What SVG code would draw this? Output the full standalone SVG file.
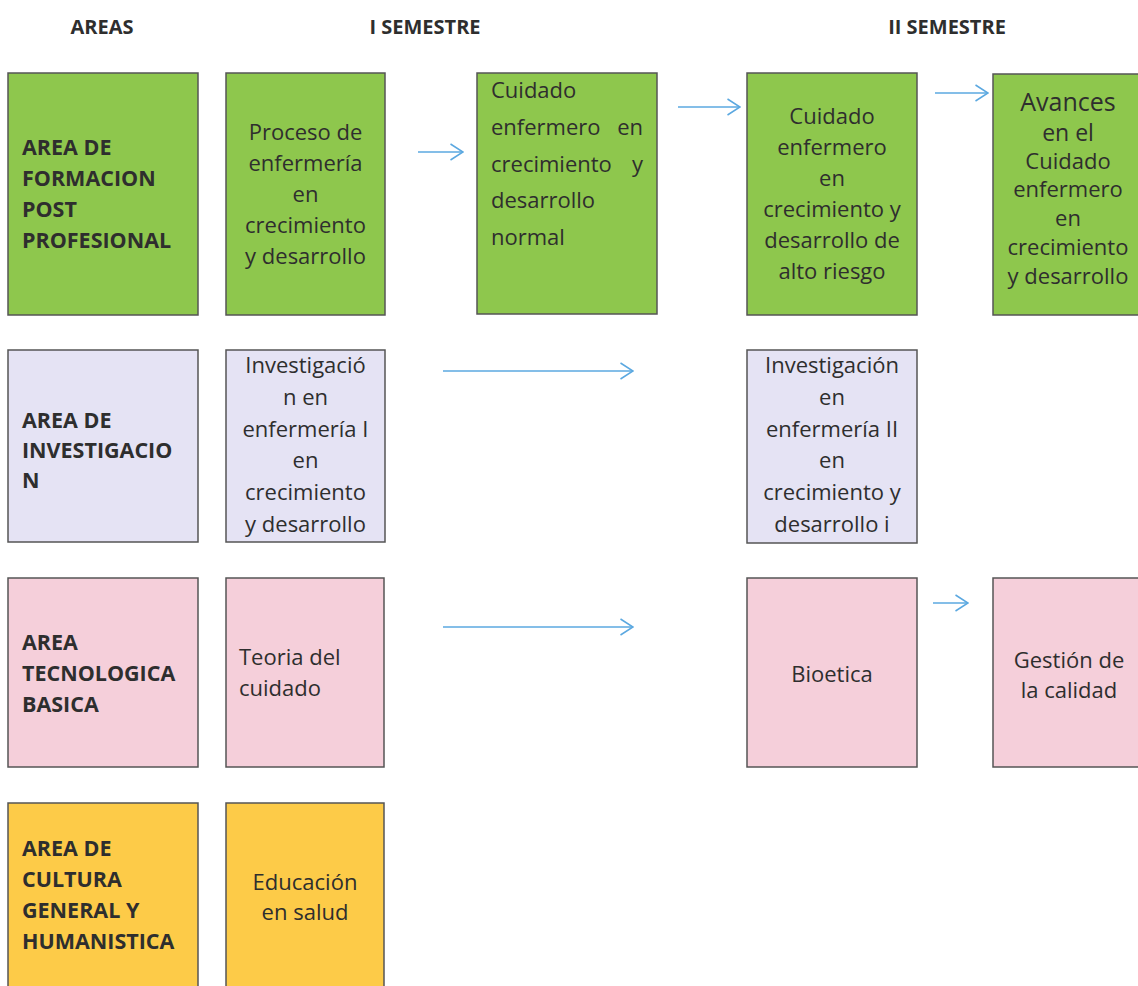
<svg xmlns="http://www.w3.org/2000/svg" width="1138" height="986" viewBox="0 0 1138 986">
<style>
.box{stroke:#555;stroke-width:1.5}
.g{fill:#8ec74d}.l{fill:#e5e3f4}.p{fill:#f5cfda}.y{fill:#fdcb48}
text{font-family:"Open Sans","Liberation Sans",sans-serif;fill:#2e2e2e}
.h{font-size:20px;font-weight:bold;text-anchor:middle}
.b{font-size:21.5px;font-weight:bold}
.t{font-size:22px}
.c{text-anchor:middle}
.arr{stroke:#5ba8e0;stroke-width:1.5;fill:none}
</style>
<defs>
<marker id="ah" markerUnits="userSpaceOnUse" viewBox="0 0 14 18" refX="13.5" refY="9" markerWidth="14" markerHeight="18" orient="auto">
<path d="M1,1 L13.5,9 L1,17" fill="none" stroke="#5ba8e0" stroke-width="1.5"/>
</marker>
</defs>
<rect width="1138" height="986" fill="#fff"/>
<g id="headers">
<text class="h" x="102" y="34">AREAS</text>
<text class="h" x="425" y="34">I SEMESTRE</text>
<text class="h" x="947" y="34">II SEMESTRE</text>
</g>
<g id="area-formacion">
<rect class="box g" x="8" y="73" width="190" height="242"/>
<text class="b"><tspan x="22" y="155">AREA DE</tspan><tspan x="22" y="186">FORMACION</tspan><tspan x="22" y="217">POST</tspan><tspan x="22" y="248">PROFESIONAL</tspan></text>
</g>
<g id="proceso">
<rect class="box g" x="226" y="73" width="159" height="242"/>
<text class="t c"><tspan x="305.5" y="140">Proceso de</tspan><tspan x="305.5" y="171">enfermería</tspan><tspan x="305.5" y="202">en</tspan><tspan x="305.5" y="233">crecimiento</tspan><tspan x="305.5" y="264">y desarrollo</tspan></text>
</g>
<g id="cuidado-normal">
<rect class="box g" x="477" y="73" width="180" height="241"/>
<text class="t"><tspan x="491" y="98">Cuidado</tspan><tspan x="491" y="135">enfermero</tspan><tspan x="643" y="135" text-anchor="end">en</tspan><tspan x="491" y="172">crecimiento</tspan><tspan x="643" y="172" text-anchor="end">y</tspan><tspan x="491" y="208">desarrollo</tspan><tspan x="491" y="245">normal</tspan></text>
</g>
<g id="cuidado-riesgo">
<rect class="box g" x="747" y="73" width="170" height="242"/>
<text class="t c"><tspan x="832" y="124">Cuidado</tspan><tspan x="832" y="155">enfermero</tspan><tspan x="832" y="186">en</tspan><tspan x="832" y="217">crecimiento y</tspan><tspan x="832" y="248">desarrollo de</tspan><tspan x="832" y="279">alto riesgo</tspan></text>
</g>
<g id="avances">
<rect class="box g" x="993" y="74" width="150" height="241"/>
<text class="t c"><tspan x="1068" y="111" font-size="25">Avances</tspan><tspan x="1068" y="141" font-size="23">en el</tspan><tspan x="1068" y="169">Cuidado</tspan><tspan x="1068" y="197">enfermero</tspan><tspan x="1068" y="226">en</tspan><tspan x="1068" y="255">crecimiento</tspan><tspan x="1068" y="284">y desarrollo</tspan></text>
</g>
<g id="area-investigacion">
<rect class="box l" x="8" y="350" width="190" height="192"/>
<text class="b"><tspan x="22" y="428">AREA DE</tspan><tspan x="22" y="458">INVESTIGACIO</tspan><tspan x="22" y="488">N</tspan></text>
</g>
<g id="investigacion-1">
<rect class="box l" x="226" y="350" width="159" height="192"/>
<text class="t c"><tspan x="305.5" y="373">Investigació</tspan><tspan x="305.5" y="405">n en</tspan><tspan x="305.5" y="437">enfermería I</tspan><tspan x="305.5" y="468">en</tspan><tspan x="305.5" y="500">crecimiento</tspan><tspan x="305.5" y="532">y desarrollo</tspan></text>
</g>
<g id="investigacion-2">
<rect class="box l" x="747" y="350" width="170" height="193"/>
<text class="t c"><tspan x="832" y="373">Investigación</tspan><tspan x="832" y="405">en</tspan><tspan x="832" y="437">enfermería II</tspan><tspan x="832" y="468">en</tspan><tspan x="832" y="500">crecimiento y</tspan><tspan x="832" y="532">desarrollo i</tspan></text>
</g>
<g id="area-tecnologica">
<rect class="box p" x="8" y="578" width="190" height="189"/>
<text class="b"><tspan x="22" y="650">AREA</tspan><tspan x="22" y="681">TECNOLOGICA</tspan><tspan x="22" y="712">BASICA</tspan></text>
</g>
<g id="teoria">
<rect class="box p" x="226" y="578" width="158" height="189"/>
<text class="t"><tspan x="239" y="665">Teoria del</tspan><tspan x="239" y="696">cuidado</tspan></text>
</g>
<g id="bioetica">
<rect class="box p" x="747" y="578" width="170" height="189"/>
<text class="t c" x="832" y="682">Bioetica</text>
</g>
<g id="gestion">
<rect class="box p" x="993" y="578" width="150" height="189"/>
<text class="t c"><tspan x="1069" y="668">Gestión de</tspan><tspan x="1069" y="698">la calidad</tspan></text>
</g>
<g id="area-cultura">
<rect class="box y" x="8" y="803" width="190" height="200"/>
<text class="b"><tspan x="22" y="856">AREA DE</tspan><tspan x="22" y="887">CULTURA</tspan><tspan x="22" y="918">GENERAL Y</tspan><tspan x="22" y="949">HUMANISTICA</tspan></text>
</g>
<g id="educacion">
<rect class="box y" x="226" y="803" width="158" height="200"/>
<text class="t c"><tspan x="305" y="890">Educación</tspan><tspan x="305" y="920">en salud</tspan></text>
</g>
<g id="connectors">
<path class="arr" d="M418,152 H463" marker-end="url(#ah)"/>
<path class="arr" d="M678,107 H740" marker-end="url(#ah)"/>
<path class="arr" d="M935,93 H988" marker-end="url(#ah)"/>
<path class="arr" d="M443,371 H633" marker-end="url(#ah)"/>
<path class="arr" d="M443,627 H633" marker-end="url(#ah)"/>
<path class="arr" d="M933,603 H968" marker-end="url(#ah)"/>
</g>
</svg>
